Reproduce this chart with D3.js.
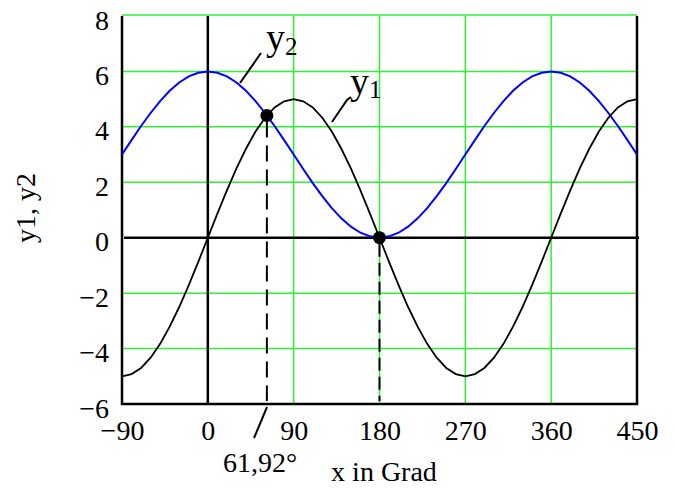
<!DOCTYPE html>
<html>
<head>
  <meta charset="utf-8">
  <title>y1, y2 in Grad</title>
  <script src="https://d3js.org/d3.v7.min.js"></script>
  <style>
    body { margin: 0; background: #fff; }
    text { font-family: "Liberation Serif", "Times New Roman", serif; fill: #000; }
    .grid { stroke: #33ee33; stroke-width: 1.5px; }
    .frame { fill: none; stroke: #000; stroke-width: 2.5px; }
  </style>
</head>
<body>
  <script>
    const xDeg = d3.range(-90, 451, 10);
    const y1Vals = [-5, -4.92, -4.70, -4.33, -3.83, -3.21, -2.5, -1.71, -0.87, 0,
      0.87, 1.71, 2.5, 3.21, 3.83, 4.33, 4.70, 4.92, 5, 4.92, 4.70, 4.33, 3.83, 3.21, 2.5, 1.71, 0.87, 0,
      -0.87, -1.71, -2.5, -3.21, -3.83, -4.33, -4.70, -4.92, -5, -4.92, -4.70, -4.33, -3.83, -3.21, -2.5, -1.71, -0.87, 0,
      0.87, 1.71, 2.5, 3.21, 3.83, 4.33, 4.70, 4.92, 5];
    const y2Vals = [3, 3.52, 4.03, 4.5, 4.93, 5.30, 5.60, 5.82, 5.95, 6,
      5.95, 5.82, 5.60, 5.30, 4.93, 4.5, 4.03, 3.52, 3, 2.48, 1.97, 1.5, 1.07, 0.70, 0.40, 0.18, 0.05, 0,
      0.05, 0.18, 0.40, 0.70, 1.07, 1.5, 1.97, 2.48, 3, 3.52, 4.03, 4.5, 4.93, 5.30, 5.60, 5.82, 5.95, 6,
      5.95, 5.82, 5.60, 5.30, 4.93, 4.5, 4.03, 3.52, 3];
    const xTicks = [-90, 0, 90, 180, 270, 360, 450];
    const yTicks = [-6, -4, -2, 0, 2, 4, 6, 8];
    const crossX = [61.92, 180];
    const crossY = [4.41, 0];

    const width = 675, height = 488;
    const svg = d3.create("svg")
        .attr("width", width)
        .attr("height", height);

    const x = d3.scaleLinear().domain([-90, 450]).range([122, 637]);
    const y = d3.scaleLinear().domain([-6, 8]).range([404, 16]);

    // green grid
    svg.append("g").selectAll("line")
      .data(xTicks.filter(d => d !== 0))
      .join("line").classed("grid", true)
        .attr("x1", d => x(d)).attr("x2", d => x(d))
        .attr("y1", y(8)).attr("y2", y(-6));
    svg.append("g").selectAll("line")
      .data(yTicks.filter(d => d !== 0))
      .join("line").classed("grid", true)
        .attr("x1", x(-90)).attr("x2", x(450))
        .attr("y1", d => y(d) - (d === 8 ? 1 : 0)).attr("y2", d => y(d) - (d === 8 ? 1 : 0));

    // frame (top edge is the green grid line)
    svg.append("path").classed("frame", true)
        .attr("d", `M${x(-90)},${y(8)}V${y(-6)}H${x(450)}V${y(8)}`);

    // axes through zero
    svg.append("line").attr("stroke", "#000").attr("stroke-width", 2.5)
        .attr("x1", x(0)).attr("x2", x(0)).attr("y1", y(8)).attr("y2", y(-6));
    svg.append("line").attr("stroke", "#000").attr("stroke-width", 2.5)
        .attr("x1", x(-90) + 2).attr("x2", x(450) + 2).attr("y1", y(0)).attr("y2", y(0));

    // tick labels
    const xAxis = svg.append("g")
        .attr("transform", `translate(0,${y(-6)})`)
        .call(d3.axisBottom(x).tickValues(xTicks).tickSize(0).tickPadding(0));
    xAxis.select(".domain").remove();
    xAxis.selectAll("text")
        .attr("dy", null).attr("y", 36)
        .style("font-size", "28px")
        .style("font-family", '"Liberation Serif", "Times New Roman", serif');

    const yAxis = svg.append("g")
        .attr("transform", `translate(${x(-90)},0)`)
        .call(d3.axisLeft(y).tickValues(yTicks).tickSize(0).tickPadding(0));
    yAxis.select(".domain").remove();
    yAxis.selectAll("text")
        .attr("dy", null).attr("x", -13).attr("y", 13)
        .style("font-size", "28px")
        .style("font-family", '"Liberation Serif", "Times New Roman", serif');

    // curves
    const line = d3.line().x(d => x(d[0])).y(d => y(d[1]));
    svg.append("path")
        .datum(xDeg.map((d, i) => [d, y2Vals[i]]))
        .attr("fill", "none").attr("stroke", "#0000ff").attr("stroke-width", 2)
        .attr("d", line);
    svg.append("path")
        .datum(xDeg.map((d, i) => [d, y1Vals[i]]))
        .attr("fill", "none").attr("stroke", "#000").attr("stroke-width", 1.8)
        .attr("d", line);

    // dashed drop lines and points
    svg.append("g").selectAll("line")
      .data(crossX)
      .join("line")
        .attr("stroke", "#000").attr("stroke-width", 2)
        .attr("stroke-dasharray", (d, i) => i === 0 ? "16,8" : "13,6")
        .attr("x1", d => x(d)).attr("x2", d => x(d))
        .attr("y1", (d, i) => y(crossY[i]) + 6).attr("y2", y(-6) - 3);
    svg.append("g").selectAll("circle")
      .data(crossX)
      .join("circle")
        .attr("cx", d => x(d)).attr("cy", (d, i) => y(crossY[i]))
        .attr("r", 6.5).attr("fill", "#000");

    // curve labels with leader lines
    svg.append("path").attr("fill", "none").attr("stroke", "#000").attr("stroke-width", 2)
        .attr("d", "M261,53L240,83");
    svg.append("path").attr("fill", "none").attr("stroke", "#000").attr("stroke-width", 2)
        .attr("d", "M351,97L347,100L332,122");
    const lab2 = svg.append("text").attr("x", 266).attr("y", 50).style("font-size", "38px");
    lab2.append("tspan").text("y");
    lab2.append("tspan").attr("dy", 5).style("font-size", "25px").text("2");
    const lab1 = svg.append("text").attr("x", 350).attr("y", 94).style("font-size", "38px");
    lab1.append("tspan").text("y");
    lab1.append("tspan").attr("dy", 4).style("font-size", "25px").text("1");

    // intersection label
    svg.append("line").attr("stroke", "#000").attr("stroke-width", 2)
        .attr("x1", 267).attr("y1", 407).attr("x2", 254).attr("y2", 438);
    svg.append("text").attr("x", 260).attr("y", 472)
        .attr("text-anchor", "middle").style("font-size", "28px").text("61,92°");

    // axis titles
    svg.append("text").attr("x", 384).attr("y", 481)
        .attr("text-anchor", "middle").style("font-size", "28px").text("x in Grad");
    svg.append("text")
        .attr("transform", "translate(35,208) rotate(-90)")
        .attr("text-anchor", "middle").style("font-size", "28px").text("y1, y2");

    document.body.appendChild(svg.node());
  </script>
</body>
</html>
